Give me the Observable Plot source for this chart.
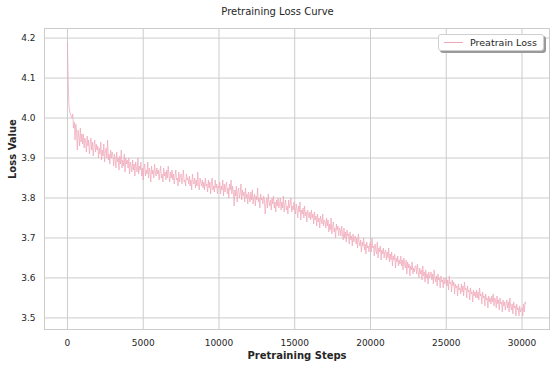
<!DOCTYPE html>
<html>
<head>
<meta charset="utf-8">
<script src="https://cdn.jsdelivr.net/npm/d3@7"></script>
<script src="https://cdn.jsdelivr.net/npm/@observablehq/plot@0.6"></script>
<style>
  html, body { margin: 0; padding: 0; background: #fff; }
  #wrap { position: relative; width: 555px; height: 368px; font-family: "DejaVu Sans", sans-serif; color: #262626; }
  #title { position: absolute; left: 0; top: 6px; width: 555px; text-align: center; font-size: 10px; }
  #legend { position: absolute; left: 438px; top: 34px; width: 104px; height: 15px; background: #fff;
            border: 1px solid #cfcfcf; border-radius: 3px; box-shadow: 2px 2px 0 #9a9a9a; box-sizing: content-box; }
  #legend .swatch { position: absolute; left: 5px; top: 7px; width: 19px; height: 0; border-top: 1px solid #f0a6b8; }
  #legend .lab { position: absolute; left: 31px; top: 1px; font-size: 9.5px; line-height: 13px; white-space: nowrap; }
</style>
</head>
<body>
<div id="wrap">
  <div id="chart"></div>
  <div id="title">Pretraining Loss Curve</div>
  <div id="legend"><div class="swatch"></div><div class="lab">Preatrain Loss</div></div>
</div>
<script>
// Logged every 50 steps, starting at step 0
const LOG_EVERY = 50;
const loss = [
  4.19, 4.09, 4.03, 4.015, 4.01, 4.005, 4.0, 4.01, 3.975, 3.99, 3.945, 3.985, 3.965, 3.92, 3.97, 3.955, 3.93, 3.975, 3.94, 3.96,
  3.935, 3.96, 3.925, 3.95, 3.94, 3.915, 3.955, 3.93, 3.945, 3.91, 3.935, 3.95, 3.92, 3.94, 3.905, 3.93, 3.945, 3.915, 3.935, 3.92,
  3.93, 3.9, 3.925, 3.91, 3.94, 3.895, 3.92, 3.905, 3.935, 3.89, 3.915, 3.925, 3.9, 3.945, 3.895, 3.91, 3.885, 3.92, 3.9, 3.915,
  3.905, 3.88, 3.91, 3.895, 3.875, 3.915, 3.89, 3.9, 3.87, 3.905, 3.885, 3.92, 3.875, 3.895, 3.88, 3.91, 3.865, 3.9, 3.885, 3.895,
  3.875, 3.9, 3.86, 3.89, 3.88, 3.865, 3.895, 3.87, 3.885, 3.855, 3.89, 3.875, 3.865, 3.9, 3.86, 3.88, 3.87, 3.89, 3.855, 3.875,
  3.845, 3.875, 3.885, 3.855, 3.87, 3.86, 3.89, 3.85, 3.875, 3.865, 3.84, 3.88, 3.86, 3.87, 3.85, 3.885, 3.865, 3.855, 3.875, 3.86,
  3.87, 3.845, 3.865, 3.88, 3.85, 3.86, 3.84, 3.875, 3.855, 3.865, 3.845, 3.87, 3.85, 3.88, 3.855, 3.84, 3.865, 3.85, 3.87, 3.845,
  3.86, 3.835, 3.855, 3.87, 3.845, 3.85, 3.83, 3.865, 3.84, 3.855, 3.86, 3.835, 3.85, 3.87, 3.84, 3.845, 3.83, 3.86, 3.845, 3.85,
  3.835, 3.855, 3.83, 3.845, 3.82, 3.86, 3.84, 3.835, 3.85, 3.825, 3.845, 3.83, 3.865, 3.835, 3.82, 3.85, 3.84, 3.83, 3.845, 3.825,
  3.84, 3.82, 3.85, 3.83, 3.835, 3.815, 3.845, 3.825, 3.84, 3.81, 3.835, 3.85, 3.82, 3.83, 3.815, 3.845, 3.825, 3.835, 3.81, 3.83,
  3.825, 3.84, 3.81, 3.83, 3.82, 3.845, 3.805, 3.835, 3.815, 3.83, 3.84, 3.81, 3.825, 3.8, 3.835, 3.82, 3.845, 3.81, 3.83, 3.815,
  3.78, 3.82, 3.805, 3.83, 3.79, 3.815, 3.825, 3.8, 3.81, 3.835, 3.795, 3.82, 3.805, 3.815, 3.79, 3.825, 3.8, 3.81, 3.785, 3.815,
  3.805, 3.79, 3.815, 3.795, 3.82, 3.785, 3.8, 3.81, 3.78, 3.805, 3.795, 3.825, 3.79, 3.8, 3.775, 3.81, 3.795, 3.8, 3.785, 3.805,
  3.795, 3.76, 3.785, 3.8, 3.775, 3.81, 3.79, 3.78, 3.795, 3.77, 3.8, 3.785, 3.805, 3.775, 3.79, 3.765, 3.795, 3.78, 3.8, 3.775,
  3.785, 3.8, 3.77, 3.79, 3.775, 3.805, 3.765, 3.785, 3.795, 3.77, 3.78, 3.76, 3.795, 3.775, 3.785, 3.8, 3.765, 3.78, 3.77, 3.79,
  3.775, 3.76, 3.785, 3.77, 3.75, 3.78, 3.765, 3.79, 3.745, 3.77, 3.76, 3.775, 3.75, 3.78, 3.755, 3.765, 3.74, 3.77, 3.76, 3.75,
  3.765, 3.745, 3.77, 3.75, 3.76, 3.735, 3.765, 3.745, 3.755, 3.73, 3.76, 3.74, 3.75, 3.725, 3.755, 3.745, 3.735, 3.76, 3.73, 3.745,
  3.74, 3.725, 3.75, 3.73, 3.745, 3.715, 3.735, 3.72, 3.75, 3.71, 3.73, 3.74, 3.715, 3.725, 3.7, 3.735, 3.72, 3.73, 3.705, 3.725,
  3.72, 3.705, 3.73, 3.71, 3.695, 3.725, 3.7, 3.715, 3.69, 3.72, 3.705, 3.71, 3.685, 3.715, 3.695, 3.705, 3.68, 3.71, 3.69, 3.7,
  3.705, 3.685, 3.7, 3.675, 3.71, 3.69, 3.68, 3.695, 3.665, 3.69, 3.68, 3.7, 3.67, 3.685, 3.66, 3.69, 3.675, 3.68, 3.665, 3.685,
  3.69, 3.665, 3.7, 3.675, 3.68, 3.655, 3.685, 3.67, 3.66, 3.69, 3.65, 3.675, 3.665, 3.68, 3.645, 3.67, 3.66, 3.675, 3.65, 3.665,
  3.67, 3.645, 3.665, 3.65, 3.675, 3.64, 3.66, 3.645, 3.665, 3.63, 3.655, 3.645, 3.66, 3.625, 3.65, 3.64, 3.655, 3.63, 3.645, 3.635,
  3.655, 3.63, 3.645, 3.62, 3.65, 3.635, 3.625, 3.645, 3.61, 3.64, 3.625, 3.635, 3.605, 3.63, 3.62, 3.64, 3.61, 3.625, 3.615, 3.63,
  3.63, 3.61, 3.635, 3.615, 3.6, 3.625, 3.61, 3.62, 3.595, 3.63, 3.605, 3.615, 3.59, 3.62, 3.6, 3.61, 3.585, 3.615, 3.6, 3.605,
  3.615, 3.595, 3.61, 3.585, 3.62, 3.6, 3.59, 3.605, 3.58, 3.61, 3.595, 3.6, 3.575, 3.605, 3.59, 3.595, 3.575, 3.6, 3.585, 3.59,
  3.6, 3.58, 3.595, 3.57, 3.605, 3.585, 3.59, 3.565, 3.595, 3.58, 3.59, 3.56, 3.585, 3.575, 3.58, 3.555, 3.585, 3.57, 3.575, 3.56,
  3.585, 3.565, 3.58, 3.555, 3.59, 3.57, 3.575, 3.55, 3.58, 3.565, 3.57, 3.545, 3.575, 3.56, 3.565, 3.54, 3.57, 3.555, 3.565, 3.55,
  3.57, 3.55, 3.565, 3.545, 3.575, 3.555, 3.56, 3.535, 3.565, 3.55, 3.555, 3.53, 3.56, 3.545, 3.55, 3.525, 3.555, 3.54, 3.55, 3.535,
  3.555, 3.54, 3.56, 3.53, 3.55, 3.545, 3.525, 3.555, 3.535, 3.545, 3.52, 3.55, 3.535, 3.54, 3.515, 3.545, 3.53, 3.54, 3.52, 3.535,
  3.545, 3.525, 3.54, 3.515, 3.55, 3.53, 3.52, 3.535, 3.51, 3.54, 3.525, 3.53, 3.505, 3.535, 3.52, 3.525, 3.505, 3.53, 3.515, 3.52,
  3.525, 3.505, 3.535, 3.515, 3.54, 3.535
];
const xTicks = [0, 5000, 10000, 15000, 20000, 25000, 30000];
const yTicks = [3.5, 3.6, 3.7, 3.8, 3.9, 4.0, 4.1, 4.2];
const xLabel = "Pretraining Steps";
const yLabel = "Loss Value";

const data = loss.map((v, i) => ({step: i * LOG_EVERY, loss: v}));

const grid = "#cccccc";
const chart = Plot.plot({
  width: 555,
  height: 368,
  marginTop: 28,
  marginBottom: 39,
  marginLeft: 44,
  marginRight: 6,
  style: {fontFamily: "DejaVu Sans, sans-serif", fontSize: "9px", color: "#262626", background: "#fff"},
  x: {domain: [-1515, 31815]},
  y: {domain: [3.471, 4.224]},
  marks: [
    Plot.gridX(xTicks, {stroke: grid, strokeOpacity: 1, strokeWidth: 1}),
    Plot.gridY(yTicks, {stroke: grid, strokeOpacity: 1, strokeWidth: 1}),
    Plot.frame({stroke: grid, strokeWidth: 1}),
    Plot.axisX(xTicks, {tickSize: 0, tickPadding: 10, tickFormat: "d", label: null, fill: "#262626"}),
    Plot.axisY(yTicks, {tickSize: 0, tickPadding: 9, tickFormat: ".1f", label: null, fill: "#262626"}),
    Plot.lineY(data, {x: "step", y: "loss", stroke: "#f0a6b8", strokeWidth: 0.8, strokeOpacity: 0.9}),
    Plot.text([xLabel], {text: d => d, frameAnchor: "bottom", dy: 29, fontWeight: "bold", fontSize: 10, fill: "#262626"}),
    Plot.text([yLabel], {text: d => d, frameAnchor: "left", dx: -32, rotate: -90, fontWeight: "bold", fontSize: 10, fill: "#262626"})
  ]
});
document.getElementById("chart").appendChild(chart);
</script>
</body>
</html>
